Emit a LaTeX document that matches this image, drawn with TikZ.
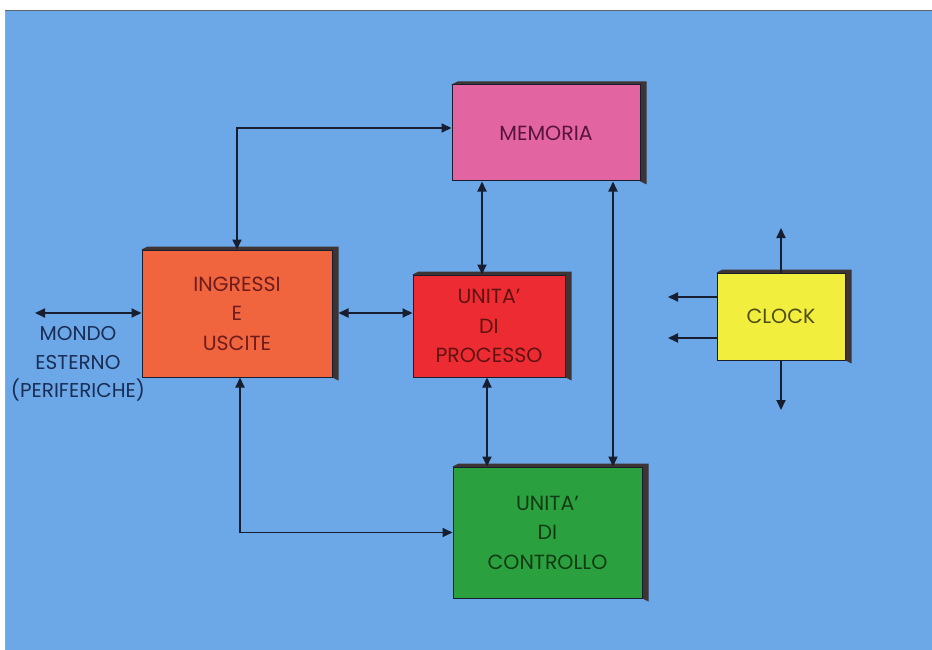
\documentclass[tikz,border=0pt]{standalone}
\usepackage{fontspec}
\setmainfont{Poppins}
\usetikzlibrary{arrows.meta,backgrounds}
\definecolor{bgblue}{RGB}{108,168,232}
\definecolor{iucol}{RGB}{240,100,62}
\definecolor{memcol}{RGB}{226,100,160}
\definecolor{proccol}{RGB}{236,44,50}
\definecolor{ctrlcol}{RGB}{42,160,62}
\definecolor{clkcol}{RGB}{242,238,62}
\definecolor{sidecol}{RGB}{62,52,52}
\definecolor{linecol}{RGB}{22,30,48}
\definecolor{mondocol}{RGB}{25,45,85}
\tikzset{
  blk/.style={draw=linecol, line width=1pt, inner sep=0pt, align=center,
    font=\fontsize{20.5}{29.5}\selectfont},
  arr/.style={draw=linecol, line width=1.8pt, {Triangle[length=10pt,width=9pt]}-{Triangle[length=10pt,width=9pt]}},
  arro/.style={draw=linecol, line width=1.8pt, -{Triangle[length=10pt,width=9pt]}},
  lbl/.style={align=center, text=mondocol, font=\fontsize{20}{28.5}\selectfont}
}
\begin{document}
\begin{tikzpicture}[x=1pt,y=-1pt]
\useasboundingbox (0,0) rectangle (932,650);
% blocks
\node[blk, fill=iucol, minimum width=190pt, minimum height=127pt, text={rgb,255:red,110;green,28;blue,28}] (IU) at (237,313.5) {INGRESSI\\E\\USCITE};
\node[blk, fill=memcol, minimum width=188pt, minimum height=96pt, text={rgb,255:red,88;green,20;blue,60}] (MEM) at (546,133) {MEMORIA};
\node[blk, fill=proccol, minimum width=152pt, minimum height=102pt, text={rgb,255:red,96;green,18;blue,18}] (PROC) at (489,326) {UNITA'\\DI\\PROCESSO};
\node[blk, fill=ctrlcol, minimum width=189pt, minimum height=131pt, text={rgb,255:red,18;green,58;blue,20}] (CTRL) at (547.5,532.5) {UNITA'\\DI\\CONTROLLO};
\node[blk, fill=clkcol, minimum width=128pt, minimum height=87pt, text={rgb,255:red,78;green,78;blue,20}] (CLK) at (781,316.5) {CLOCK};
\node[lbl] (MONDO) at (78,364) {MONDO\\ESTERNO\\(PERIFERICHE)};
% free ends
\coordinate (mw) at (35,313);
\coordinate (cu) at (781,228);
\coordinate (cd) at (781,410);
\coordinate (cl1) at (668,297);
\coordinate (cl2) at (668,338);
% background and extrusions
\begin{scope}[on background layer]
  \fill[white] (0,0) rectangle (932,650);
  \fill[bgblue] (5,11) rectangle (932,650);
  \draw[linecol!70, line width=1pt] (5,11) -- (932,11);
  \draw[linecol!40, line width=0.8pt] (5,11) -- (5,650);
  \foreach \n in {IU,MEM,PROC,CTRL,CLK}{
    \fill[sidecol] (\n.north west) -- ++(6,-3) -| ([xshift=6pt,yshift=-3pt]\n.south east) -- (\n.south east) -- cycle;
  }
\end{scope}
% connectors
\draw[arr] (mw) -- (mw -| IU.west);
\draw[arr] ([xshift=6pt]IU.east |- mw) -- (PROC.west |- mw);
\draw[arr] (IU.north) |- ([yshift=5pt]MEM.west);
\draw[arr] ([xshift=3pt]IU.south) |- (CTRL.west);
\draw[arr] ([xshift=-64pt]MEM.south) -- ([xshift=-64pt]MEM.south |- PROC.north);
\draw[arr] ([xshift=-2pt]PROC.south) -- ([xshift=-2pt]PROC.south |- CTRL.north);
\draw[arr] ([xshift=67pt]MEM.south) -- ([xshift=67pt]MEM.south |- CTRL.north);
\draw[arro] (CLK.north) -- (cu);
\draw[arro] (CLK.south) -- (cd);
\draw[arro] (CLK.west |- cl1) -- (cl1);
\draw[arro] (CLK.west |- cl2) -- (cl2);
\end{tikzpicture}
\end{document}
